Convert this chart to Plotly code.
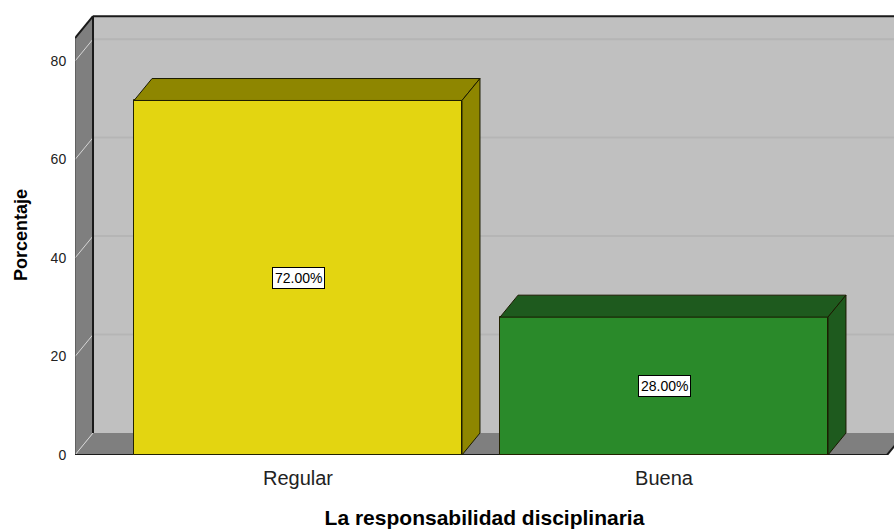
import plotly.graph_objects as go

# ---- data ----
categories = ["Regular", "Buena"]
percentages = [72.0, 28.0]
front_colors = ["#E3D511", "#2A8A2A"]
shade_colors = ["#8E8600", "#1E5A1E"]
y_ticks = [0, 20, 40, 60, 80]
x_title = "La responsabilidad disciplinaria"
y_title = "Porcentaje"

# ---- 3D styling constants (axis units) ----
bar_width = 0.896
depth_x = 0.0492       # horizontal depth offset (category units)
depth_y = 4.46         # vertical depth offset (percentage units)
wall_top = 84.65       # top of wall on front plane
front_left = -0.6093
front_right = 1.6093
x_max = 1.6284
y_max = wall_top + depth_y + 0.25

FONT = "Arial, Liberation Sans, sans-serif"

fig = go.Figure()

shapes = []
# back wall
shapes.append(dict(type="rect", layer="below", xref="x", yref="y",
                   x0=front_left + depth_x, x1=front_right + depth_x + 0.2,
                   y0=depth_y, y1=wall_top + depth_y,
                   fillcolor="#C0C0C0", line=dict(width=0)))
# back wall grid lines
for v in y_ticks[1:]:
    shapes.append(dict(type="line", layer="below", xref="x", yref="y",
                       x0=front_left + depth_x, x1=front_right + depth_x + 0.2,
                       y0=v + depth_y, y1=v + depth_y,
                       line=dict(color="#B5B5B5", width=2)))
# left wall
shapes.append(dict(type="path", layer="below", xref="x", yref="y",
                   path=(f"M {front_left},0 L {front_left},{wall_top} "
                         f"L {front_left + depth_x},{wall_top + depth_y} "
                         f"L {front_left + depth_x},{depth_y} Z"),
                   fillcolor="#7F7F7F", line=dict(width=0)))
# floor
shapes.append(dict(type="path", layer="below", xref="x", yref="y",
                   path=(f"M {front_left},0 L {front_left + depth_x},{depth_y} "
                         f"L {front_right + depth_x},{depth_y} L {front_right},0 Z"),
                   fillcolor="#7F7F7F", line=dict(width=0)))
# left wall grid diagonals
for v in y_ticks:
    shapes.append(dict(type="line", layer="below", xref="x", yref="y",
                       x0=front_left, y0=v, x1=front_left + depth_x, y1=v + depth_y,
                       line=dict(color="#D6D6D6", width=1)))
# wall edges
edge = dict(color="#1A1A1A", width=2)
shapes.append(dict(type="line", layer="below", xref="x", yref="y",
                   x0=front_left + depth_x, y0=depth_y,
                   x1=front_left + depth_x, y1=wall_top + depth_y, line=edge))
shapes.append(dict(type="line", layer="below", xref="x", yref="y",
                   x0=front_left + depth_x, y0=wall_top + depth_y,
                   x1=front_right + depth_x + 0.2, y1=wall_top + depth_y, line=edge))
shapes.append(dict(type="line", layer="below", xref="x", yref="y",
                   x0=front_left, y0=wall_top,
                   x1=front_left + depth_x, y1=wall_top + depth_y, line=edge))
shapes.append(dict(type="line", layer="below", xref="x", yref="y",
                   x0=front_left, y0=0, x1=front_left, y1=wall_top,
                   line=dict(color="#444444", width=1)))
shapes.append(dict(type="line", layer="below", xref="x", yref="y",
                   x0=front_left, y0=0, x1=front_right, y1=0, line=edge))
shapes.append(dict(type="line", layer="below", xref="x", yref="y",
                   x0=front_right, y0=0, x1=front_right + depth_x, y1=depth_y, line=edge))

# bars: front faces as Bar trace, top and side faces as shapes
xs = list(range(len(categories)))
fig.add_trace(go.Bar(
    x=xs, y=percentages, width=bar_width,
    marker=dict(color=front_colors, line=dict(color="#222200", width=1)),
    hoverinfo="skip", showlegend=False,
))
for i, v in enumerate(percentages):
    l = i - bar_width / 2
    r = i + bar_width / 2
    shapes.append(dict(type="path", xref="x", yref="y",
                       path=(f"M {l},{v} L {l + depth_x},{v + depth_y} "
                             f"L {r + depth_x},{v + depth_y} L {r},{v} Z"),
                       fillcolor=shade_colors[i], line=dict(color="#1A1A00", width=1)))
    shapes.append(dict(type="path", xref="x", yref="y",
                       path=(f"M {r},0 L {r},{v} L {r + depth_x},{v + depth_y} "
                             f"L {r + depth_x},{depth_y} Z"),
                       fillcolor=shade_colors[i], line=dict(color="#1A1A00", width=1)))

annotations = []
for i, v in enumerate(percentages):
    annotations.append(dict(x=i, y=v / 2, xref="x", yref="y",
                            text=f"{v:.2f}%", showarrow=False,
                            font=dict(family=FONT, size=14, color="#000000"),
                            bgcolor="#FFFFFF", bordercolor="#000000",
                            borderwidth=1, borderpad=2))

fig.update_layout(
    width=894, height=529,
    margin=dict(l=75, r=0, t=15, b=74),
    paper_bgcolor="#FFFFFF", plot_bgcolor="#FFFFFF",
    shapes=shapes, annotations=annotations,
    bargap=0,
    xaxis=dict(range=[front_left, x_max], tickvals=xs, ticktext=categories,
               showgrid=False, zeroline=False, showline=False, ticks="",
               automargin=False, ticklabelstandoff=9,
               tickfont=dict(family=FONT, size=20, color="#222222"),
               title=dict(text=f"<b>{x_title}</b>", standoff=24,
                          font=dict(family=FONT, size=21, color="#000000"))),
    yaxis=dict(range=[0, y_max], tickvals=y_ticks,
               showgrid=False, zeroline=False, showline=False,
               automargin=False,
               ticks="outside", ticklen=5, tickcolor="rgba(0,0,0,0)",
               tickfont=dict(family=FONT, size=14, color="#222222"),
               title=dict(text=f"<b>{y_title}</b>", standoff=18,
                          font=dict(family=FONT, size=18, color="#000000"))),
)

fig.write_html("out.html", config={"displayModeBar": False},
               post_script="document.body.style.margin='0';")
